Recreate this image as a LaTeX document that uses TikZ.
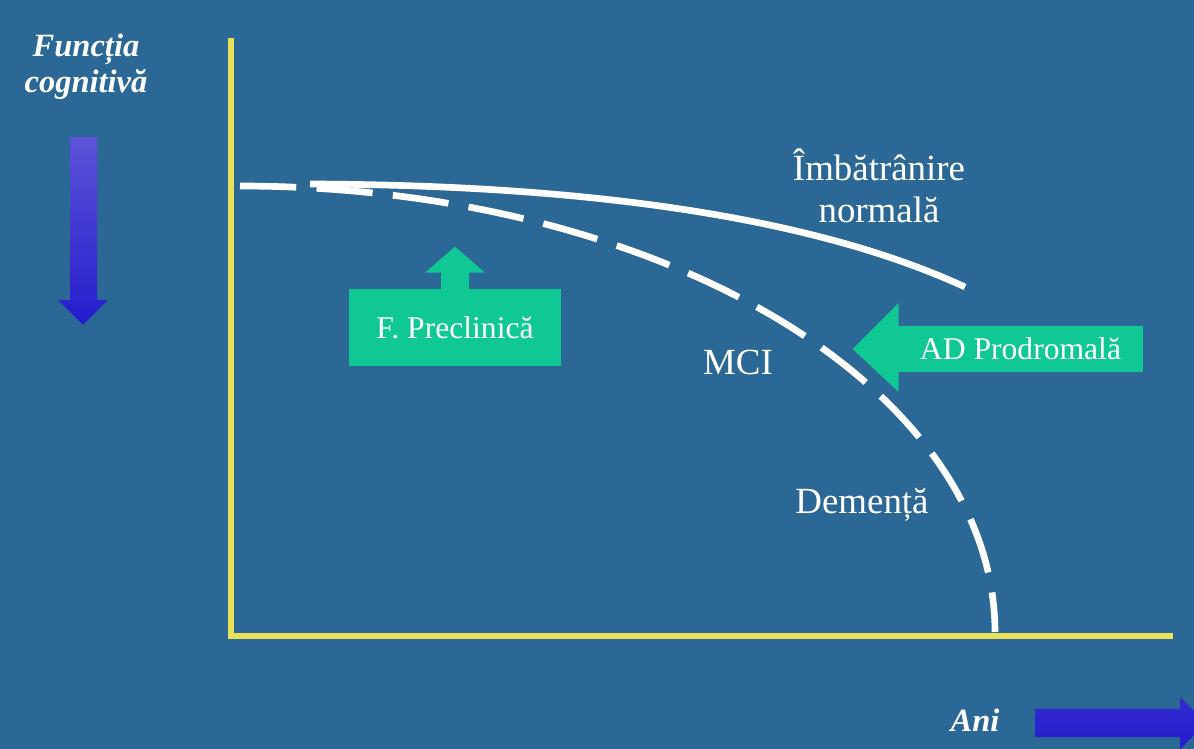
\documentclass[tikz,border=0pt]{standalone}
\usepackage{fontspec}
\setmainfont{Liberation Serif}
\usetikzlibrary{positioning}
\definecolor{slidebg}{RGB}{44,104,150}
\definecolor{axisyellow}{RGB}{232,226,88}
\definecolor{calloutgreen}{RGB}{16,200,148}
\definecolor{arrowtop}{RGB}{92,84,216}
\definecolor{arrowbot}{RGB}{36,28,204}
\tikzset{
  axisline/.style={axisyellow, line width=3.4pt},
  curveline/.style={white, line width=3.8pt},
  lbl/.style={text=white, font=\fontsize{21}{25}\selectfont, inner sep=0pt},
  axtitle/.style={text=white, font=\bfseries\itshape\fontsize{18.5}{21.5}\selectfont, align=center, inner sep=0pt},
  callout/.style={fill=calloutgreen, text=white, font=\fontsize{18}{21}\selectfont, inner sep=0pt}
}

\begin{document}
\begin{tikzpicture}[x=0.02cm, y=-0.02cm]
      \fill[slidebg] (0, 0) rectangle (1194, 749);
      \clip (0, 0) rectangle (1194, 749);
      % axes
      \coordinate (ytop) at (231, 38);
      \coordinate (origin) at (231, 636);
      \coordinate (xend) at (1173, 636);
      \draw[axisline] (ytop) -- (origin) -- (xend);
      % blue arrows
      \shade[top color=arrowtop, bottom color=arrowbot] (70, 137) -- (97, 137) -- (97, 300) -- (108, 300) -- (83, 325) -- (58, 300) -- (70, 300) -- cycle;
      \shade[top color=arrowbot!75!arrowtop, bottom color=arrowbot] (1035, 709) -- (1180, 709) -- (1180, 697) -- (1206, 723) -- (1180, 749) -- (1180, 737) -- (1035, 737) -- cycle;
      \node[axtitle] (ylabel) at (86, 67) {Funcția\\[-1pt]cognitivă};
      \node[axtitle] (xlabel) at (975, 720) {Ani};
      % curves
      \draw[curveline] (310, 184) .. controls (600, 185) and (820, 220) .. (965, 287);
      \draw[curveline, dash pattern=on 32pt off 11.6pt, domain=90:0, samples=80, smooth]
        plot ({240 + 755*cos(\x)}, {632 - 446*sin(\x)});
      % labels
      \node[lbl] (aging) at (879, 186) {\shortstack{Îmbătrânire\\[6pt]normală}};
      \node[lbl] (mci) at (738, 362) {MCI};
      \node[lbl] (dementia) at (862, 505) {Demență};
      % callouts
      \node[callout, minimum width=4.24cm, minimum height=1.54cm] (prec) at (455, 327.5) {F. Preclinică};
      \fill[calloutgreen] (prec.north) ++(-14, 1) -- ++(0, -17) -- ++(-16, 0) -- ++(30, -26) -- ++(30, 26) -- ++(-16, 0) -- ++(0, 17) -- cycle;
      \node[callout, minimum width=4.9cm, minimum height=0.92cm, text depth=0pt] (prod) at (1020.5, 349) {AD Prodromală\hspace{0.4cm}};
      \fill[calloutgreen] (prod.west) ++(1, -46) -- ++(-46, 46) -- ++(46, 43) -- cycle;
\end{tikzpicture}
\end{document}
